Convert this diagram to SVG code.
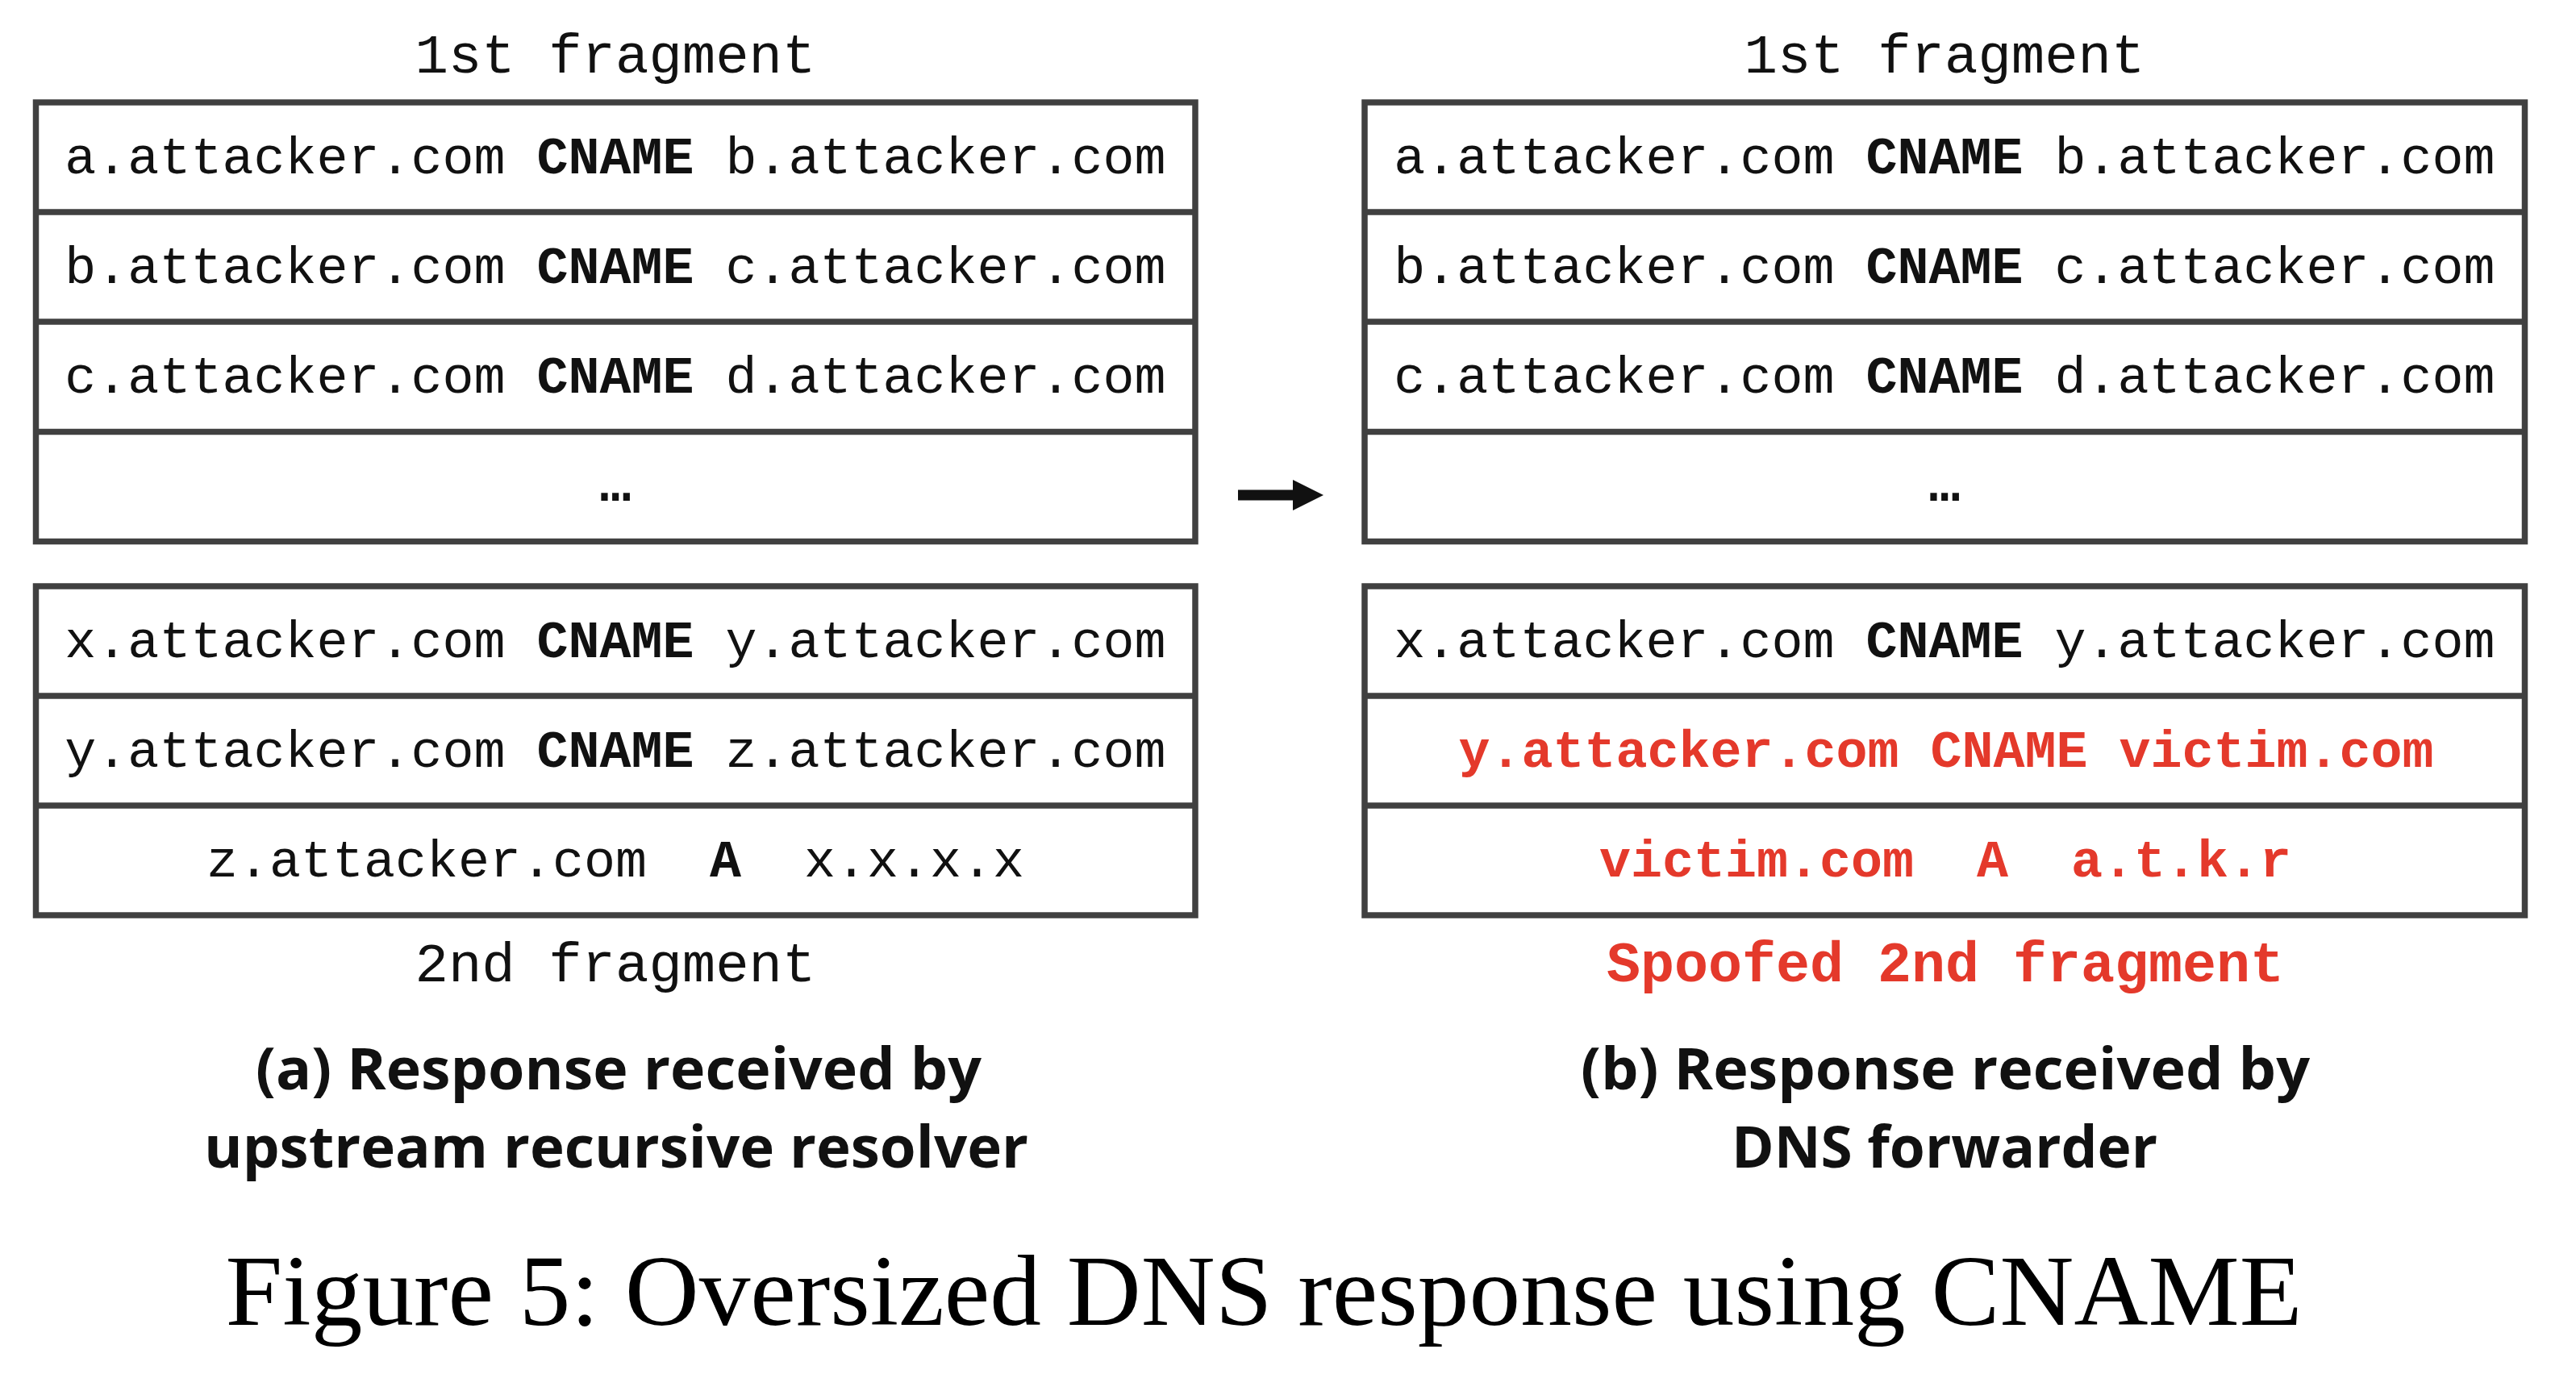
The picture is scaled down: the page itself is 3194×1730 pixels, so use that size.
<svg xmlns="http://www.w3.org/2000/svg" width="3194" height="1730" viewBox="0 0 3194 1730">
<style>
.box{fill:#fff;stroke:#404040;stroke-width:7.5}
.div{stroke:#404040;stroke-width:7.5}
.m{font-family:"Liberation Mono","DejaVu Sans Mono",monospace;font-size:65px;fill:#111;text-anchor:middle}
.lbl{font-family:"Liberation Mono","DejaVu Sans Mono",monospace;font-size:69px;fill:#111;text-anchor:middle}
.b{font-weight:bold}
.red{fill:#e4392b;font-weight:bold}
.sp{font-size:70px}
.cap{font-family:"Open Sans","DejaVu Sans",sans-serif;font-weight:bold;font-size:72px;fill:#111;text-anchor:middle}
.fig{font-family:"Liberation Serif","Times New Roman",serif;font-size:125px;fill:#000;text-anchor:middle}
</style>
<rect width="3194" height="1730" fill="#fff"/>

<g id="left-frag1">
<text class="lbl" x="763" y="90">1st fragment</text>
<rect class="box" x="44.5" y="127" width="1437.5" height="544.5"/>
<line class="div" x1="44.5" y1="263" x2="1482" y2="263"/>
<line class="div" x1="44.5" y1="399" x2="1482" y2="399"/>
<line class="div" x1="44.5" y1="535.5" x2="1482" y2="535.5"/>
<text class="m" x="763" y="215">a.attacker.com <tspan class="b">CNAME</tspan> b.attacker.com</text>
<text class="m" x="763" y="351">b.attacker.com <tspan class="b">CNAME</tspan> c.attacker.com</text>
<text class="m" x="763" y="487">c.attacker.com <tspan class="b">CNAME</tspan> d.attacker.com</text>
<text class="m b" x="763" y="621">…</text>
</g>

<g id="left-frag2">
<rect class="box" x="44.5" y="727" width="1437.5" height="408"/>
<line class="div" x1="44.5" y1="863" x2="1482" y2="863"/>
<line class="div" x1="44.5" y1="999" x2="1482" y2="999"/>
<text class="m" x="763" y="815">x.attacker.com <tspan class="b">CNAME</tspan> y.attacker.com</text>
<text class="m" x="763" y="951">y.attacker.com <tspan class="b">CNAME</tspan> z.attacker.com</text>
<text class="m" x="763" y="1087" xml:space="preserve">z.attacker.com  <tspan class="b">A</tspan>  x.x.x.x</text>
<text class="lbl" x="763" y="1217">2nd fragment</text>
</g>

<g id="right-frag1">
<text class="lbl" x="2411" y="90">1st fragment</text>
<rect class="box" x="1692" y="127" width="1438.5" height="544.5"/>
<line class="div" x1="1692" y1="263" x2="3130.5" y2="263"/>
<line class="div" x1="1692" y1="399" x2="3130.5" y2="399"/>
<line class="div" x1="1692" y1="535.5" x2="3130.5" y2="535.5"/>
<text class="m" x="2411" y="215">a.attacker.com <tspan class="b">CNAME</tspan> b.attacker.com</text>
<text class="m" x="2411" y="351">b.attacker.com <tspan class="b">CNAME</tspan> c.attacker.com</text>
<text class="m" x="2411" y="487">c.attacker.com <tspan class="b">CNAME</tspan> d.attacker.com</text>
<text class="m b" x="2411" y="621">…</text>
</g>

<g id="right-frag2">
<rect class="box" x="1692" y="727" width="1438.5" height="408"/>
<line class="div" x1="1692" y1="863" x2="3130.5" y2="863"/>
<line class="div" x1="1692" y1="999" x2="3130.5" y2="999"/>
<text class="m" x="2411" y="815">x.attacker.com <tspan class="b">CNAME</tspan> y.attacker.com</text>
<text class="m red" x="2413" y="951">y.attacker.com CNAME victim.com</text>
<text class="m red" x="2412" y="1087" xml:space="preserve">victim.com  A  a.t.k.r</text>
<text class="lbl red sp" x="2412" y="1217">Spoofed 2nd fragment</text>
</g>

<g id="connectors">
<rect x="1535" y="607.5" width="70" height="13" fill="#111"/>
<polygon points="1603,595 1641,614 1603,633" fill="#111"/>
</g>

<g id="captions">
<text class="cap" x="767" y="1351" textLength="900" lengthAdjust="spacingAndGlyphs">(a) Response received by</text>
<text class="cap" x="764" y="1448" textLength="1022" lengthAdjust="spacingAndGlyphs">upstream recursive resolver</text>
<text class="cap" x="2412" y="1351" textLength="904" lengthAdjust="spacingAndGlyphs">(b) Response received by</text>
<text class="cap" x="2411" y="1448" textLength="528" lengthAdjust="spacingAndGlyphs">DNS forwarder</text>
<text class="fig" x="1567" y="1643" textLength="2575" lengthAdjust="spacingAndGlyphs">Figure 5: Oversized DNS response using CNAME</text>
</g>
</svg>
